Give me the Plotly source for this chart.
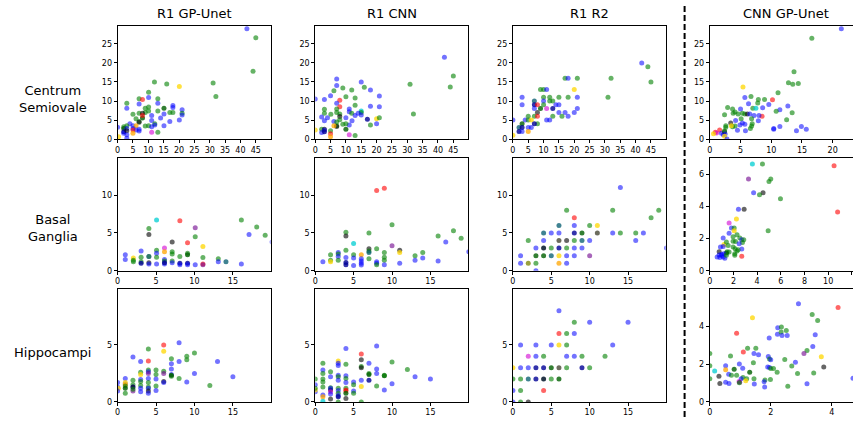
import plotly.graph_objects as go

# ---------------- data ----------------
# Centrum Semiovale
cs_r1gp_x = [42.1,45,44.1,31.1,32,20.1,12,16,10.1,10.1,13.1,7,8.1,3,3,7,9,10.1,13.1,18,18,21,10.1,13.1,15.1,9,17,18,7,8.1,15.1,21,21,5,6,8.1,7,7,11.1,14,17,20.1,11.1,12.1,12.1,15.1,10.1,9,11.1,4,5,6,3,2,2,3,5,6,7,7,5,5,2,2,3,3,3,13.1,11.1,0.3,0,8.1]
cs_r1gp_y = [29.0,26.6,17.8,14.7,11.2,13.8,15,14.5,12.3,10.9,10.6,10.6,10.4,9.4,8.1,9.2,8.1,8.4,9.4,8.8,8.3,7.7,7.4,7.4,8.1,7,7,7,6.8,6.8,6.6,6.8,6.3,6.5,5.3,5.5,4.6,4.4,4.9,5.5,4.6,5.0,6.2,4.0,3.7,3.5,3.5,3.4,3.2,4.0,3.5,3.5,3.5,3.2,2.8,2.8,2.8,2.4,2.6,2.1,2.4,1.5,1.9,1.5,2.2,1.1,0.2,1.8,1.8,0.6,3.1,6.2]
cs_r1gp_c = "bggggygggb" "ggrgbbggbb" "bbggnggggk" "bgbggngkbb" "bbbgbbggbb" "boggnbbbbb" "rodbkbbgmy" "br"

cs_r1cnn_x = [42.1,45,44,30.9,32,7,7,15,16,9,11.9,6.1,18,5,20.9,10,13,0,3,8,7,13,8,18,20.9,3,7,11.1,11.1,7,8,15,15,15,14,11.9,13,3,8,2.1,4,10,5.1,8,3,6.1,12,17,20,20.9,7,20,11.1,18,9,10,7,7,6.1,10,2.1,3,3,2.1,3,5,5,5,11.1,13,0]
cs_r1cnn_y = [21.5,16.6,13.7,14.4,6.6,15.8,14.1,15,13.6,13.4,12.9,12.7,12.9,11.4,11.3,11.1,10.8,10.5,10.4,10.2,9.4,8.9,8.5,8.6,8.5,7.8,7.9,7.9,7.2,7,6.6,7.4,7,6.3,6.8,6.8,6.2,6.8,5.9,5.8,5.6,5.6,6.5,5.1,4.8,4.6,4.8,5.2,5.3,5.6,4.5,4.0,3.7,3.7,3.9,4.0,3.5,3.3,3.5,2.6,2.6,2.6,2.4,1.7,1.9,2.2,1.4,0.6,1.1,0.9,2.4]
cs_r1cnn_c = "bggggbbbgg" "ggbbbggbbr" "bgrbbggbbg" "gcgbbgbgkb" "bbggbbbdyg" "gbbggggkon" "gkbbdgromg" "y"

cs_r1r2_x = [42,44,45,32,31,20,17,18,21,9,10,11,18,15,21,12,10,3,12,13,10,7,3,10,7,8,14,15,13,9,11,21,7,8,15,17,20,5,7,8,18,16,13,4,5,6,0,11,12,3,8,7,2,3,5,6,2,3,5,0]
cs_r1r2_y = [20,19,15,16,11,13,16,16,16,13,13,13,11,11,11,11,11,11,10,10,10,10,9,9,9,9,9,9,8,8,8,8,8,7,7,7,7,6,6,6,6,6,6,5,5,5,5,5,5,4,4,4,3,3,3,3,2,2,2,1]
cs_r1r2_c = "bggggygbgg" "gbggbggbgg" "btbgdrbbdn" "mbbkbbbggr" "bggbgybbbn" "gdtdbbdboy"

cs_cnngp_x = [21.4,16.6,13.7,12.8,13.5,14.4,5.4,11.1,5.7,6.7,7.9,8.9,10.2,7.8,6.3,9.6,12.7,2.9,3.7,5.0,7.0,7.5,8.6,4.1,3.8,4.6,5.3,5.7,6.1,6.5,2.4,11.4,10.8,13.4,7.2,8.5,8.0,5.1,6.8,4.2,12.5,7.9,5.3,5.7,4.9,6.9,6.8,6.6,3.4,4.1,3.7,3.5,11.4,14.9,10.4,10.4,15.7,14.1,4.5,5.8,2.6,2.6,1.6,0.9,1.1,1.9,2.2,2.4,2.4,2.5,0.6,2.4,2.8]
cs_cnngp_y = [29.0,26.5,17.7,14.8,14.4,14.6,13.7,12.2,10.9,11.2,10.4,10.4,10.3,9.5,9.3,9.1,8.7,8.3,7.9,7.9,8.1,8.1,8.2,7.1,6.8,6.6,6.8,6.6,6.6,6.6,6.4,7.7,7.3,6.9,6.2,6.0,6.2,5.3,5.3,4.9,5.1,4.8,4.2,3.9,3.7,4.0,3.4,2.8,4.2,3.4,3.2,3.5,3.3,3.3,2.8,2.6,2.6,2.2,2.3,2.2,3.5,3.1,2.4,1.8,1.6,1.5,1.1,1.9,2.2,1.3,1.4,0.7,0.0]
cs_cnngp_c = "bgggggygbg" "ggrgbbbggb" "gcbgggggkb" "gbggbrbggb" "gbbbbgggkg" "gybbbbbbbb" "ggrrmbbkgb" "yyb"

# Basal Ganglia
bg_r1gp_x = [5.07,8.1,16.1,4.07,10.1,18.1,4.07,17.1,19.2,10.1,7.1,20.1,9.1,11.1,6.1,3.06,5.07,6.1,7.1,5.07,7.1,9.1,9.1,1.0,3.06,4.07,4.07,5.07,8.1,11.1,1.0,2.05,2.05,2.05,3.06,6.1,6.1,7.1,13.1,13.1,14.1,4.07,3.06,4.07,5.07,6.1,6.1,7.1,8.1,8.1,9.1,9.1,10.1,11.1,11.1,16.1]
bg_r1gp_y = [6.7,6.6,6.7,5.6,5.7,5.8,4.8,4.8,4.7,4.5,3.8,3.8,3.7,3.2,3.0,2.6,2.7,2.5,2.5,2.3,2.2,2.3,2.1,2.1,1.8,1.9,1.9,1.8,1.9,1.75,1.5,1.7,1.4,1.2,1.2,1.5,1.3,1.3,1.6,1.2,1.2,1.05,1.0,0.9,0.9,0.9,1.05,1.05,1.0,0.8,1.0,0.8,0.8,0.9,0.8,0.9]
bg_r1gp_c = "crggpgkbgg" "kbrymbgogb" "ggnbgbgggg" "bygggbgggb" "tkdbbbdbdb" "dbbrpb"

bg_r1cnn_x = [8,9,10,4,7,18,4,16,19,17,5,10,4,8,7,7,7,9,11,11,14,20,3,2,3,5,6,13,3,4,5,6,7,6,9,9,14,1,2,2,3,13,16,4,6,8,8,8,9,11,4,5,6]
bg_r1cnn_y = [10.6,10.9,6.1,5.1,5.0,5.3,4.6,4.6,4.3,3.8,3.6,3.3,2.7,2.9,2.9,2.6,2.4,2.4,2.7,2.4,2.4,2.5,2.4,2.1,2.2,2.1,2.1,2.0,1.9,1.75,1.7,1.6,1.6,1.3,1.8,1.4,1.7,1.2,1.4,1.2,1.4,1.4,1.3,1.1,1.0,1.2,1.0,0.8,0.8,1.0,0.8,0.7,0.75]
bg_r1cnn_c = "rrggggkggb" "cpggkgtgky" "gbbgggogbb" "bbgbggbbgy" "gbbdbbbgbb" "dbb"

bg_r1r2_x = [14,7,13,19,8,18,6,8,10,11,4,5,6,8,9,11,13,14,16,17,2,4,6,7,8,9,10,16,3,4,5,6,7,8,9,20,1,3,4,5,6,7,8,10,1,2,3,6,7,3]
bg_r1r2_y = [11,8,8,8,7,7,6,6,6,6,5,5,5,5,5,5,5,5,5,5,4,4,4,4,4,4,4,4,3,3,3,3,3,3,3,3,2,2,2,2,2,2,2,2,1,1,1,1,1,0]
bg_r1r2_c = "bgggrgtbgy" "tbbdnsbggb" "gbskgtbbbx" "gdgbbbbnnt" "ybbpblgobb"

bg_cnngp_x = [3.6,4.45,10.5,3.27,5.15,5.0,3.7,4.5,4.2,10.8,5.97,2.42,2.9,2.25,1.63,4.93,1.13,1.83,2.06,2.06,1.63,2.3,1.97,2.54,2.7,2.87,2.76,1.2,1.13,1.4,1.55,1.97,2.17,2.48,1.97,2.14,0.9,2.7,2.39,2.3,0.79,1.46,1.63,1.4,1.18,1.0,0.79,0.62,0.85,1.13,1.27,1.4,2.11,2.11,2.7,1.0]
bg_cnngp_y = [6.63,6.63,6.53,5.7,5.7,5.55,4.84,4.84,4.73,3.65,4.47,3.82,3.82,3.22,2.96,2.49,2.04,2.65,2.65,2.49,2.33,2.24,2.12,2.04,1.92,1.92,1.76,1.63,1.51,1.78,1.57,1.84,1.82,1.67,1.47,1.37,1.47,1.35,1.31,1.22,1.18,1.18,1.16,1.1,1.06,1.02,0.98,0.86,0.82,0.86,0.78,0.96,1.06,0.96,0.9,0.94]
bg_cnngp_c = "cgrpggbkgr" "gbkymgbbgy" "bgggbggybg" "gggbggbbgg" "kggnbbbbbb" "bgggrb"

# Hippocampi
hc_r1gp_x = [8,6,4,6,10,9,9,7,2,3,4,13,7,7,8,5,4,6,4,4,3,3,6,5,10,7,7,7,15,8,4,5,3,1,2,3,4,6,6,9,12,5,1,1,1,0,2,1,2,2,3,3,4,4,5,1,1,0,0.1,0,2,3,4,4,2]
hc_r1gp_y = [5.2,5.0,4.65,4.45,4.3,4.0,3.7,3.8,3.95,3.55,3.6,3.55,3.35,2.9,3.55,2.8,2.8,2.7,2.65,2.5,2.6,2.4,2.5,2.4,2.5,2.4,2.25,2.35,2.2,2.05,2.05,2.0,1.97,2.05,1.9,1.8,1.7,1.8,1.7,1.75,1.45,1.4,1.6,1.7,1.5,1.7,1.5,1.4,1.3,1.3,1.45,1.2,1.3,1.2,1.0,1.2,0.75,1.3,1.2,0.95,0.95,0.9,0.95,0.75,1.1]
hc_r1gp_c = "brgyggggbb" "rbbbbgggbp" "gypgbbgnbg" "bbbbgggkbb" "ggbyobggbk" "gbgbbngbyb" "pbkbg"

hc_r1cnn_x = [8,4,6,6,3,3,1,4,7,3,6,6,10,12,1,1,2,8,8,7,7,9,9,2,3,3,4,4,13,15,3,1,1,4,5,6,7,0,8,6,5,10,9,1,2,2,2,3,3,4,4,4,4,5,5,3,2,0,0,0,0,1,1,2,3,3,4,2,1,3,6]
hc_r1cnn_y = [4.9,4.7,4.2,3.7,3.6,3.4,3.4,3.3,3.4,3.2,3.1,3.0,3.5,2.85,2.8,2.5,2.65,2.9,2.5,2.5,2.4,2.3,2.35,2.2,2.35,2.2,2.3,2.05,2.2,2.0,1.9,2.0,1.75,1.7,1.75,1.9,1.9,2.0,1.4,1.35,1.5,1.6,1.05,1.3,1.25,1.05,1.2,1.2,1.0,1.2,1.05,0.95,0.75,0.95,0.75,0.75,0.9,1.5,0.9,1.05,1.2,0.6,0.45,0.7,0.55,0.45,0.3,0.25,0.05,0,0]
hc_r1cnn_c = "bbrkybggbb" "gkggbggbbg" "nngbbgbgbb" "bggbbbdggy" "gbbggkbgbg" "rrnbggmbby" "gbobbdkkcg" "g"

hc_r1r2_x = [6,8,10,15,6,7,8,1,3,5,6,7,13,2,3,4,7,8,9,12,0,1,2,3,4,5,6,7,9,10,0,1,2,3,4,5,6,0,1,4,0,1,2]
hc_r1r2_y = [8,7,7,7,6,6,6,5,5,5,5,5,5,4,4,4,4,4,4,4,3,3,3,3,3,3,3,3,3,3,2,2,2,2,2,2,2,1,1,1,0,0,0]
hc_r1r2_c = "bgbbrgbbbb" "ygbmbgbbgg" "ybbddnsgdg" "ggtdxgnbgr" "bgk"

hc_cnngp_x = [2.91,4.21,3.36,3.54,1.4,1.95,2.23,2.35,2.22,2.34,2.51,2.54,2.37,3.46,0.88,3.38,1.24,1.51,3.19,1.1,3.09,1.45,1.6,3.66,0.68,0,1.92,1.96,2.0,2.46,1.43,2.81,2.69,0.52,0.97,1.08,0,1.9,1.96,2.0,2.09,2.21,0.16,0.52,0.62,0.3,0.71,0.8,0.88,2.88,3.41,1.31,1.09,1.03,1.21,1.45,1.81,1.78,1.99,0,1.18,0.96,0.98,0.97,0.33,0.52,0.63,1.46,3.19,1.8,2.56,3.74,4.7]
hc_cnngp_y = [5.18,4.99,4.61,4.3,4.45,3.37,3.91,3.95,3.57,3.69,3.77,3.51,3.5,3.55,3.62,2.92,2.83,2.83,2.71,2.64,2.56,2.56,2.49,2.38,2.42,2.56,2.4,2.26,2.23,2.24,2.07,2.09,1.9,1.91,2.0,1.77,1.91,1.84,1.81,1.76,1.76,1.57,1.63,1.7,1.46,1.36,1.41,1.72,1.41,1.5,1.53,1.57,1.29,1.22,1.22,1.22,1.15,1.06,1.18,1.22,1.11,1.08,1.04,1.01,0.97,1.04,0.97,0.94,0.96,0.78,0.82,1.84,1.25]
hc_cnngp_c = "brggybbgbg" "gbbbrbgggr" "pbbyggbgbg" "gbgbbbgbbg" "ggcobkgngg" "gngbgggbgg" "ympgkbbbbb" "gkb"

row_names = ["Centrum<br>Semiovale", "Basal<br>Ganglia", "Hippocampi"]
col_names = ["R1 GP-Unet", "R1 CNN", "R1 R2", "CNN GP-Unet"]

# ---------------- style ----------------
cmap = {
    "b": "rgba(0,0,255,0.55)", "g": "rgba(0,128,0,0.6)", "r": "rgba(255,0,0,0.6)",
    "y": "rgba(255,215,0,0.75)", "o": "rgba(255,165,0,0.75)", "m": "rgba(210,0,210,0.6)",
    "c": "rgba(0,206,209,0.75)", "k": "rgba(0,0,0,0.6)", "p": "rgba(110,0,140,0.6)",
    "d": "rgba(0,0,150,0.8)", "t": "rgba(0,90,110,0.75)", "n": "rgba(0,95,0,0.8)",
    "s": "rgba(60,60,40,0.75)", "x": "rgba(0,20,40,0.85)", "l": "rgba(120,130,0,0.75)",
}

panels = [
    [(cs_r1gp_x, cs_r1gp_y, cs_r1gp_c), (cs_r1cnn_x, cs_r1cnn_y, cs_r1cnn_c),
     (cs_r1r2_x, cs_r1r2_y, cs_r1r2_c), (cs_cnngp_x, cs_cnngp_y, cs_cnngp_c)],
    [(bg_r1gp_x, bg_r1gp_y, bg_r1gp_c), (bg_r1cnn_x, bg_r1cnn_y, bg_r1cnn_c),
     (bg_r1r2_x, bg_r1r2_y, bg_r1r2_c), (bg_cnngp_x, bg_cnngp_y, bg_cnngp_c)],
    [(hc_r1gp_x, hc_r1gp_y, hc_r1gp_c), (hc_r1cnn_x, hc_r1cnn_y, hc_r1cnn_c),
     (hc_r1r2_x, hc_r1r2_y, hc_r1r2_c), (hc_cnngp_x, hc_cnngp_y, hc_cnngp_c)],
]

W, H = 853, 422
col_px = [(115, 268.5), (313.3, 466.7), (511.7, 665), (709.3, 853)]
row_px = [(26, 140.7), (160, 274), (292.7, 406.7)]
xranges = [[[0, 49.8]] * 3 + [[0, 23.3]], [[0, 19.9]] * 3 + [[0, 12.1]], [[0, 19.9]] * 3 + [[0, 4.7]]]
yranges = [[[0, 29.8]] * 4, [[0, 14.9]] * 3 + [[0, 7]], [[0, 9.9]] * 3 + [[0, 5.95]]]
xdt = [[5, 5, 5, 5], [5, 5, 5, 2], [5, 5, 5, 2]]
ydt = [[5, 5, 5, 5], [5, 5, 5, 2], [5, 5, 5, 2]]

FONT = "DejaVu Sans"
fig = go.Figure()
layout = dict(width=W, height=H, margin=dict(l=0, r=0, t=0, b=0),
              plot_bgcolor="white", paper_bgcolor="white", showlegend=False,
              font=dict(family=FONT, color="black"))
annotations = []
k = 0
for r in range(3):
    for c in range(4):
        k += 1
        xs, ys, cs = panels[r][c]
        cols = [cmap.get(ch, cmap["g"]) for ch in cs[:len(xs)]]
        cols += [cmap["g"]] * (len(xs) - len(cols))
        xa = "x" if k == 1 else f"x{k}"
        ya = "y" if k == 1 else f"y{k}"
        fig.add_trace(go.Scatter(x=xs, y=ys, mode="markers", xaxis=xa, yaxis=ya,
                                 marker=dict(size=5, color=cols, line=dict(width=0)),
                                 hoverinfo="skip"))
        x0, x1 = col_px[c]
        y0, y1 = row_px[r]
        common = dict(showgrid=False, zeroline=False, showline=True, linecolor="black",
                      linewidth=1, ticks="outside", ticklen=3, tickwidth=1,
                      tickcolor="black", tickfont=dict(family=FONT, size=8, color="black"))
        layout["xaxis" if k == 1 else f"xaxis{k}"] = dict(
            domain=[x0 / W, x1 / W], range=xranges[r][c], dtick=xdt[r][c], tick0=0,
            anchor=ya, mirror=True, **common)
        layout["yaxis" if k == 1 else f"yaxis{k}"] = dict(
            domain=[1 - y1 / H, 1 - y0 / H], range=yranges[r][c], dtick=ydt[r][c], tick0=0,
            anchor=xa, mirror=(c < 3), **common)

for c in range(4):
    xc = col_px[c][0] + 153.5 / 2
    annotations.append(dict(text=col_names[c], x=xc / W, y=1 - 14 / H, xref="paper", yref="paper",
                            showarrow=False, font=dict(family=FONT, size=13), xanchor="center",
                            yanchor="middle"))
row_cy = [100, 231, 357]
for r in range(3):
    annotations.append(dict(text=row_names[r], x=50 / W, y=1 - row_cy[r] / H, xref="paper",
                            yref="paper", showarrow=False, font=dict(family=FONT, size=13),
                            xanchor="center", yanchor="middle"))
layout["annotations"] = annotations
layout["shapes"] = [dict(type="line", xref="paper", yref="paper", x0=684 / W, x1=684 / W,
                         y0=0, y1=1 - 5 / H, line=dict(color="black", width=2, dash="6px,3px"))]
fig.update_layout(**layout)
fig.write_html(
    "out.html", config={"displayModeBar": False, "staticPlot": True},
    post_script=("var e=[document.documentElement, document.body];"
                 "for(var i=0;i<e.length;i++){var s=e[i].style;s.margin='0';s.padding='0';"
                 "s.overflow='hidden';s.height='422px';s.width='853px';}"))
